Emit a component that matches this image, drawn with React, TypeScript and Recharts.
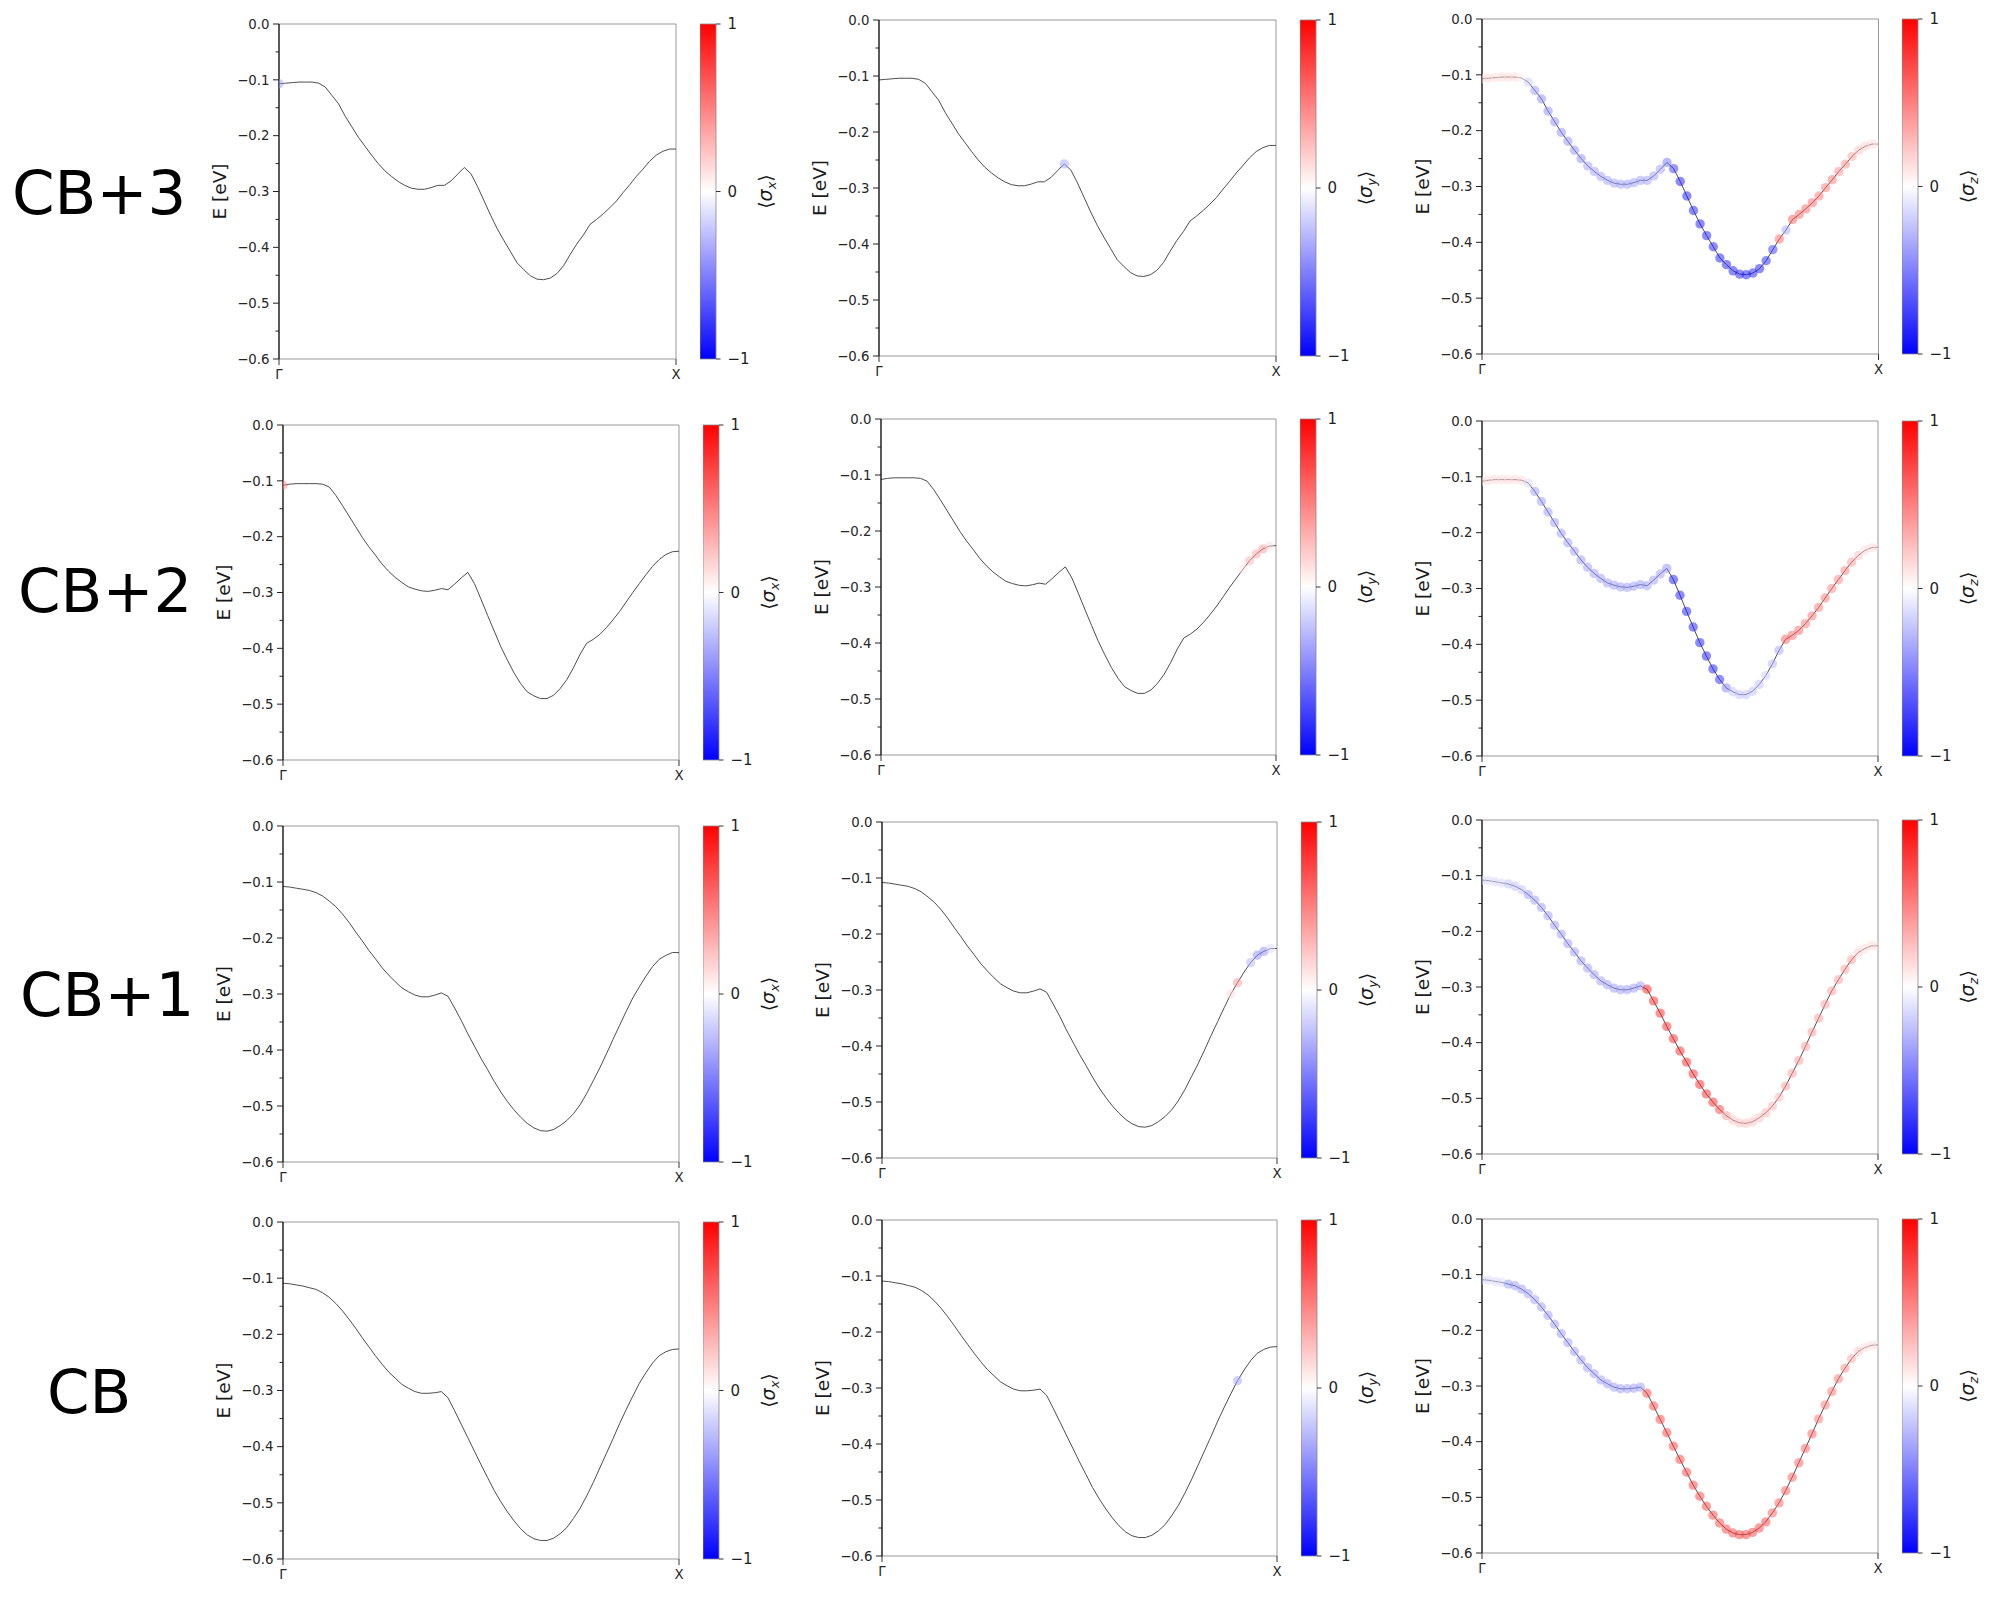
import React from 'react';
import { ComposedChart, Line, Scatter, XAxis, YAxis, ReferenceLine, ReferenceArea } from 'recharts';

// k-point index along Γ → X
const K = [0,1,2,3,4,5,6,7,8,9,10,11,12,13,14,15,16,17,18,19,20,21,22,23,24,25,26,27,28,29,30,31,32,33,34,35,36,37,38,39,40,41,42,43,44,45,46,47,48,49,50,51,52,53,54,55,56,57,58,59,60];

// band energies [eV]
const E_CB3 = [-0.107,-0.106,-0.105,-0.104,-0.104,-0.104,-0.106,-0.113,-0.128,-0.143,
  -0.165,-0.184,-0.203,-0.219,-0.235,-0.250,-0.263,-0.273,-0.282,-0.289,
  -0.294,-0.296,-0.296,-0.293,-0.289,-0.289,-0.281,-0.269,-0.257,-0.268,
  -0.291,-0.317,-0.343,-0.367,-0.388,-0.408,-0.428,-0.440,-0.451,-0.457,
  -0.458,-0.455,-0.447,-0.433,-0.413,-0.394,-0.378,-0.359,-0.350,-0.340,
  -0.329,-0.317,-0.302,-0.288,-0.273,-0.260,-0.246,-0.235,-0.228,-0.224,-0.224];
const E_CB2 = [-0.108,-0.106,-0.105,-0.105,-0.105,-0.105,-0.106,-0.111,-0.126,-0.144,
  -0.163,-0.182,-0.201,-0.218,-0.233,-0.249,-0.262,-0.273,-0.282,-0.290,
  -0.294,-0.297,-0.298,-0.296,-0.293,-0.295,-0.285,-0.274,-0.264,-0.284,
  -0.312,-0.341,-0.369,-0.397,-0.421,-0.444,-0.463,-0.478,-0.485,-0.490,
  -0.490,-0.484,-0.472,-0.456,-0.435,-0.411,-0.391,-0.384,-0.375,-0.363,
  -0.349,-0.334,-0.317,-0.300,-0.284,-0.268,-0.253,-0.241,-0.232,-0.227,-0.226];
const E_CB1 = [-0.108,-0.109,-0.111,-0.113,-0.115,-0.119,-0.125,-0.134,-0.144,-0.157,
  -0.172,-0.189,-0.205,-0.222,-0.237,-0.253,-0.266,-0.278,-0.289,-0.296,
  -0.302,-0.305,-0.305,-0.302,-0.298,-0.304,-0.325,-0.347,-0.371,-0.393,
  -0.415,-0.435,-0.456,-0.475,-0.492,-0.507,-0.520,-0.531,-0.539,-0.544,
  -0.545,-0.542,-0.535,-0.526,-0.514,-0.498,-0.478,-0.455,-0.432,-0.407,
  -0.381,-0.356,-0.331,-0.307,-0.287,-0.268,-0.251,-0.238,-0.231,-0.226,-0.226];
const E_CB = [-0.109,-0.110,-0.112,-0.114,-0.117,-0.120,-0.126,-0.134,-0.145,-0.158,
  -0.173,-0.189,-0.206,-0.222,-0.238,-0.253,-0.267,-0.278,-0.289,-0.296,
  -0.302,-0.305,-0.305,-0.304,-0.302,-0.313,-0.336,-0.360,-0.384,-0.408,
  -0.432,-0.455,-0.478,-0.498,-0.516,-0.532,-0.546,-0.557,-0.564,-0.567,
  -0.567,-0.563,-0.555,-0.544,-0.528,-0.510,-0.488,-0.464,-0.438,-0.412,
  -0.386,-0.359,-0.334,-0.310,-0.287,-0.268,-0.251,-0.238,-0.231,-0.227,-0.226];

// <σz> per k-point
const SZ_CB3 = [0.15,0.15,0.15,0.15,0.15,0.15,0.05,-0.2,-0.4,-0.45,
  -0.45,-0.45,-0.45,-0.45,-0.45,-0.45,-0.38,-0.38,-0.38,-0.38,
  -0.38,-0.38,-0.38,-0.38,-0.38,-0.38,-0.38,-0.38,-0.55,-0.8,
  -0.9,-0.9,-0.9,-0.9,-0.9,-0.9,-0.9,-0.9,-0.9,-0.9,
  -0.9,-0.9,-0.9,-0.85,-0.8,0.6,-0.35,0.65,0.6,0.6,
  0.6,0.55,0.55,0.55,0.45,0.45,0.35,0.25,0.2,0.15,0.1];
const SZ_CB2 = [0.15,0.15,0.15,0.15,0.15,0.15,0.15,-0.15,-0.4,-0.4,
  -0.4,-0.4,-0.4,-0.4,-0.4,-0.4,-0.4,-0.4,-0.4,-0.4,
  -0.4,-0.4,-0.4,-0.4,-0.4,-0.4,-0.4,-0.4,-0.45,-0.9,
  -0.9,-0.9,-0.9,-0.9,-0.9,-0.9,-0.85,-0.5,-0.25,-0.25,
  -0.25,-0.25,-0.25,-0.2,-0.3,-0.35,0.65,0.6,0.6,0.55,
  0.55,0.55,0.55,0.5,0.5,0.5,0.4,0.25,0.15,0.15,0.15];
const SZ_CB1 = [-0.15,-0.15,-0.15,-0.15,-0.25,-0.25,-0.25,-0.4,-0.4,-0.4,
  -0.4,-0.4,-0.4,-0.4,-0.4,-0.4,-0.4,-0.4,-0.4,-0.4,
  -0.4,-0.4,-0.4,-0.4,-0.4,0.9,0.85,0.85,0.85,0.85,
  0.85,0.85,0.85,0.85,0.85,0.85,0.75,0.4,0.25,0.25,
  0.25,0.25,0.25,0.3,0.3,0.3,0.4,0.4,0.4,0.4,
  0.4,0.4,0.4,0.4,0.4,0.4,0.4,0.2,0.15,0.15,0.15];
const SZ_CB = [-0.15,-0.15,-0.15,-0.15,-0.4,-0.4,-0.4,-0.4,-0.4,-0.4,
  -0.4,-0.4,-0.4,-0.4,-0.4,-0.4,-0.4,-0.4,-0.4,-0.4,
  -0.4,-0.4,-0.4,-0.4,-0.4,0.75,0.75,0.75,0.75,0.75,
  0.75,0.75,0.75,0.75,0.75,0.75,0.75,0.75,0.75,0.75,
  0.75,0.75,0.75,0.75,0.65,0.65,0.65,0.65,0.65,0.65,
  0.65,0.55,0.55,0.55,0.55,0.45,0.35,0.25,0.15,0.15,0.15];

// <σx>, <σy>: non-zero k-points only (index: value)
const SX_CB3: Record<number, number> = { 0: -0.4 };
const SX_CB2: Record<number, number> = { 0: 0.45 };
const SX_CB1: Record<number, number> = {};
const SX_CB: Record<number, number> = {};
const SY_CB3: Record<number, number> = { 28: -0.35 };
const SY_CB2: Record<number, number> = { 55: 0.1, 56: 0.3, 57: 0.35, 58: 0.4, 59: 0.15 };
const SY_CB1: Record<number, number> = { 53: 0.15, 54: 0.4, 56: -0.3, 57: -0.45, 58: -0.45, 59: -0.15 };
const SY_CB: Record<number, number> = { 54: -0.35 };

const ROW_LABELS = ['CB+3', 'CB+2', 'CB+1', 'CB'];
const COMPONENTS = ['x', 'y', 'z'];
const Y_TICKS = [-0.6, -0.55, -0.5, -0.45, -0.4, -0.35, -0.3, -0.25, -0.2, -0.15, -0.1, -0.05, 0];
const X_TICKS = [0, 60];
const X_TICK_LABELS = ['Γ', 'X'];
const CBAR_TICKS = [-1, 0, 1];
const CBAR_RANGE = [{ x: 0, v: -1 }, { x: 1, v: 1 }];

const ENERGIES = [E_CB3, E_CB2, E_CB1, E_CB];
const SIGMA_X = [SX_CB3, SX_CB2, SX_CB1, SX_CB];
const SIGMA_Y = [SY_CB3, SY_CB2, SY_CB1, SY_CB];
const SIGMA_Z = [SZ_CB3, SZ_CB2, SZ_CB1, SZ_CB];

// layout (axes boxes in page pixels)
const BOXES = [
  [{ x: 279, y: 24, w: 397, h: 335 }, { x: 879, y: 20, w: 397, h: 336 }, { x: 1481.5, y: 19, w: 396.5, h: 335 }],
  [{ x: 283, y: 425, w: 396, h: 335 }, { x: 881, y: 419, w: 395, h: 336 }, { x: 1481.7, y: 421, w: 396, h: 335 }],
  [{ x: 283, y: 826, w: 396, h: 336 }, { x: 882, y: 822, w: 395, h: 336 }, { x: 1481.7, y: 820, w: 396, h: 334 }],
  [{ x: 282.7, y: 1222.4, w: 396, h: 337 }, { x: 882, y: 1220, w: 395, h: 336 }, { x: 1481.7, y: 1219.3, w: 396, h: 334 }],
];
const ROW_LABEL_POS = [{ x: 12, y: 214 }, { x: 18, y: 612 }, { x: 20, y: 1016 }, { x: 47, y: 1413 }];

const FONT = 'DejaVu Sans';
const ML = 80, MT = 8, MR = 8, MB = 32;

function bwr(v: number) {
  const c = Math.max(-1, Math.min(1, v));
  if (c < 0) {
    const t = Math.round(255 * (1 + c));
    return `rgb(${t},${t},255)`;
  }
  const t = Math.round(255 * (1 - c));
  return `rgb(255,${t},${t})`;
}

function fmtY(v: number) {
  if (Math.abs(v) < 1e-9) return '0.0';
  return (v < 0 ? '\u2212' : '') + Math.abs(v).toFixed(1);
}

function Panel({ box, energies, sigma }: { box: any; energies: number[]; sigma: number[] }) {
  const W = box.w + ML + MR;
  const H = box.h + MT + MB;
  const data = K.map((k, i) => ({ k, e: energies[i], s: sigma[i] }));
  const dots = data.filter((d) => Math.abs(d.s) > 0.02);
  const axisX = ML;
  const axisY = MT + box.h;

  const yTick = (p: any) => {
    const v = p.payload.value;
    const major = Math.round(Math.abs(v) * 100) % 10 === 0;
    const y = p.y;
    return (
      <g>
        <line x1={axisX - (major ? 6 : 3.5)} x2={axisX} y1={y} y2={y} stroke="#222" strokeWidth={1} />
        {major && (
          <text x={axisX - 9.5} y={y} dy="0.36em" textAnchor="end" fontSize={13.3} fill="#262626" fontFamily={FONT}>
            {fmtY(v)}
          </text>
        )}
      </g>
    );
  };
  const xTick = (p: any) => {
    const v = p.payload.value;
    const x = p.x;
    const idx = X_TICKS.indexOf(v);
    return (
      <g>
        <line x1={x} x2={x} y1={axisY} y2={axisY + 6} stroke="#333" strokeWidth={1} />
        <text x={x} y={axisY + 19.5} textAnchor="middle" fontSize={13.3} fill="#262626" fontFamily={FONT}>
          {X_TICK_LABELS[idx]}
        </text>
      </g>
    );
  };
  const yLabel = () => (
    <text
      x={ML - 59.5}
      y={MT + box.h / 2}
      transform={`rotate(-90 ${ML - 59.5} ${MT + box.h / 2})`}
      dy="0.36em"
      textAnchor="middle"
      fontSize={18.5}
      fill="#1a1a1a"
      fontFamily={FONT}
    >
      E [eV]
    </text>
  );
  const dotShape = (p: any) => {
    if (p.cx == null || p.cy == null) return <g />;
    return <circle cx={p.cx} cy={p.cy} r={4.7} fill={bwr(p.payload.s)} fillOpacity={0.5} />;
  };

  return (
    <div style={{ position: 'absolute', left: box.x - ML, top: box.y - MT }}>
      <ComposedChart width={W} height={H} data={data} margin={{ top: MT, right: MR, bottom: 0, left: 0 }}>
        <XAxis
          dataKey="k"
          type="number"
          domain={[0, 60]}
          ticks={X_TICKS}
          interval={0}
          allowDataOverflow
          height={MB}
          tickLine={false}
          axisLine={{ stroke: '#999', strokeWidth: 1 }}
          tick={xTick}
        />
        <YAxis
          type="number"
          domain={[-0.6, 0]}
          ticks={Y_TICKS}
          interval={0}
          allowDataOverflow
          width={ML}
          tickLine={false}
          axisLine={{ stroke: '#000', strokeWidth: 1.3 }}
          tick={yTick}
          label={yLabel}
        />
        <ReferenceLine y={0} stroke="#999" strokeWidth={1} />
        <ReferenceLine x={60} stroke="#999" strokeWidth={1} />
        {dots.length > 0 && <Scatter data={dots} dataKey="e" shape={dotShape} isAnimationActive={false} />}
        <Line
          dataKey="e"
          type="linear"
          stroke="#3a3a3a"
          strokeWidth={0.9}
          dot={false}
          activeDot={false}
          isAnimationActive={false}
        />
      </ComposedChart>
    </div>
  );
}

function Colorbar({ box, comp }: { box: any; comp: string }) {
  const CW = 16;
  const RW = 70;
  const x0 = box.x + box.w + 24;
  const gid = `bwr-${comp}-${Math.round(box.y)}`;
  const cbTick = (p: any) => {
    const v = p.payload.value;
    const y = p.y;
    return (
      <g>
        <line x1={CW} x2={CW + 4.5} y1={y} y2={y} stroke="#333" strokeWidth={1} />
        <text x={CW + 11.5} y={y} dy="0.36em" textAnchor="start" fontSize={15} fill="#1e1e1e" fontFamily={FONT}>
          {v < 0 ? '\u2212' + Math.abs(v) : String(v)}
        </text>
      </g>
    );
  };
  const lx = CW + 49;
  const ly = 8 + box.h / 2;
  const cbLabel = () => (
    <text
      x={lx}
      y={ly}
      transform={`rotate(-90 ${lx} ${ly})`}
      dy="0.36em"
      textAnchor="middle"
      fontSize={19}
      fill="#1a1a1a"
      fontFamily={FONT}
    >
      ⟨<tspan fontStyle="italic">σ</tspan>
      <tspan fontStyle="italic" fontSize={13} dy={4}>{comp}</tspan>
      <tspan dy={-4}>⟩</tspan>
    </text>
  );
  return (
    <div style={{ position: 'absolute', left: x0, top: box.y - 8 }}>
      <ComposedChart width={CW + RW} height={box.h + 16} data={CBAR_RANGE} margin={{ top: 8, right: 0, bottom: 8, left: 0 }}>
        <defs>
          <linearGradient id={gid} x1="0" y1="0" x2="0" y2="1">
            <stop offset="0" stopColor="#ff0000" />
            <stop offset="0.5" stopColor="#ffffff" />
            <stop offset="1" stopColor="#0000ff" />
          </linearGradient>
        </defs>
        <XAxis dataKey="x" type="number" domain={[0, 1]} hide />
        <YAxis
          orientation="right"
          type="number"
          domain={[-1, 1]}
          ticks={CBAR_TICKS}
          interval={0}
          width={RW}
          tickLine={false}
          axisLine={false}
          tick={cbTick}
          label={cbLabel}
        />
        <Line dataKey="v" stroke="none" dot={false} activeDot={false} isAnimationActive={false} />
        <ReferenceArea
          x1={0}
          x2={1}
          y1={-1}
          y2={1}
          fill={`url(#${gid})`}
          fillOpacity={1}
          stroke="#888"
          strokeWidth={0.8}
          ifOverflow="visible"
        />
      </ComposedChart>
    </div>
  );
}

export default function App() {
  return (
    <div style={{ position: 'absolute', left: 0, top: 0, width: 2000, height: 1600, background: '#fff', overflow: 'hidden' }}>
      <svg width={2000} height={1600} style={{ position: 'absolute', left: 0, top: 0 }}>
        {ROW_LABELS.map((t, r) => (
          <text key={t} x={ROW_LABEL_POS[r].x} y={ROW_LABEL_POS[r].y} fontSize={61} fontFamily={FONT} fill="#000">
            {t}
          </text>
        ))}
      </svg>
      {ROW_LABELS.map((_, r) =>
        COMPONENTS.map((comp, c) => {
          const box = BOXES[r][c];
          const sigma =
            c === 2
              ? SIGMA_Z[r]
              : K.map((i) => ((c === 0 ? SIGMA_X[r] : SIGMA_Y[r])[i] ?? 0));
          return (
            <React.Fragment key={`${r}-${c}`}>
              <Panel box={box} energies={ENERGIES[r]} sigma={sigma} />
              <Colorbar box={box} comp={comp} />
            </React.Fragment>
          );
        })
      )}
    </div>
  );
}
